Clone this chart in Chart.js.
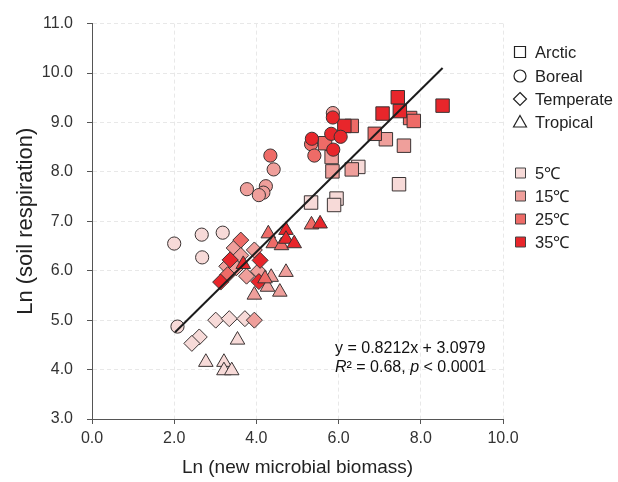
<!DOCTYPE html>
<html><head><meta charset="utf-8">
<script src="https://cdn.jsdelivr.net/npm/chart.js@4/dist/chart.umd.min.js"></script>
<style>html,body{margin:0;padding:0;background:#fff}#wrap{width:618px;height:482px;position:relative}</style>
</head><body><div id="wrap"><canvas id="c"></canvas></div>
<script>
// ---- data ----
const regions = ['Arctic', 'Boreal', 'Temperate', 'Tropical'];
const temps = ['5℃', '15℃', '25℃', '35℃'];
const xTicks = [0, 2, 4, 6, 8, 10];
const yTicks = [3, 4, 5, 6, 7, 8, 9, 10, 11];
const fitSlope = [0.8212];
const fitIntercept = [3.0979];
const fitRange = [2.02, 8.53];
const fitLabel = ['y = 0.8212x + 3.0979'];

const arctic5  = [[6.48,8.10],[7.47,7.75],[5.33,7.38],[5.95,7.46],[5.89,7.33]];
const arctic15 = [[7.15,8.66],[7.59,8.53],[5.83,8.30],[5.85,8.01],[6.32,8.05]];
const arctic25 = [[7.74,9.09],[7.83,9.03],[6.32,8.93],[6.88,8.77],[5.67,8.58]];
const arctic35 = [[7.44,9.51],[8.53,9.34],[7.07,9.18],[7.49,9.23],[6.14,8.93]];

const boreal5  = [[2.00,6.55],[2.67,6.73],[3.18,6.77],[2.68,6.27],[2.08,4.87]];
const boreal15 = [[5.86,9.19],[4.42,8.05],[4.23,7.71],[3.77,7.65],[4.17,7.58],[4.06,7.53]];
const boreal25 = [[5.33,8.56],[5.41,8.33],[4.34,8.33]];
const boreal35 = [[5.86,9.10],[5.82,8.77],[6.05,8.71],[5.35,8.67],[5.87,8.45]];

const temperate5  = [[3.01,5.00],[3.34,5.03],[3.72,5.03],[2.61,4.66],[2.43,4.53]];
const temperate15 = [[3.95,5.00],[3.46,6.46],[3.62,6.31],[3.95,6.42],[3.28,6.09],[3.51,6.06],[3.76,5.89],[4.05,5.99]];
const temperate25 = [[3.62,6.62],[3.30,5.92]];
const temperate35 = [[3.36,6.22],[4.09,6.21],[3.13,5.77],[4.06,5.78]];

const tropical5  = [[3.54,4.60],[2.77,4.15],[3.21,4.15],[3.21,3.98],[3.40,3.98]];
const tropical15 = [[4.36,5.87],[4.72,5.97],[4.27,5.67],[3.95,5.51],[4.57,5.57]];
const tropical25 = [[4.29,6.75],[4.41,6.55],[4.61,6.51],[5.34,6.93],[4.21,5.84]];
const tropical35 = [[4.72,6.82],[4.72,6.64],[4.92,6.55],[5.55,6.95],[3.68,6.13]];

// ---- styles ----
const tempColors = ['#f7dad8', '#ef9f9b', '#ee6b67', '#e8262b'];
const shapeStyles = [
  {style: 'rect', r: 9.5},
  {style: 'circle', r: 6.6},
  {style: 'rectRot', r: 8},
  {style: 'triangle', r: 8.4}
];
const groups = [
  [arctic5, arctic15, arctic25, arctic35],
  [boreal5, boreal15, boreal25, boreal35],
  [temperate5, temperate15, temperate25, temperate35],
  [tropical5, tropical15, tropical25, tropical35]
];

const FONT = '"Liberation Sans", Arial, Helvetica, sans-serif';
const datasets = [];
let n = 16;
groups.forEach((g, si) => {
  g.forEach((pts, ti) => {
    datasets.push({
      type: 'scatter',
      label: regions[si] + ' ' + temps[ti],
      data: pts.map(p => ({x: p[0], y: p[1]})),
      pointStyle: shapeStyles[si].style,
      pointRadius: shapeStyles[si].r,
      pointHoverRadius: shapeStyles[si].r,
      backgroundColor: tempColors[ti],
      borderColor: '#3a3333',
      borderWidth: 1,
      order: n--
    });
  });
});
datasets.push({
  type: 'line',
  label: 'fit',
  data: fitRange.map(x => ({x: x, y: fitSlope[0] * x + fitIntercept[0]})),
  borderColor: '#1c1c1c',
  borderWidth: 2,
  pointRadius: 0,
  fill: false,
  order: 0
});

const legendPlugin = {
  id: 'customLegend',
  afterDraw(chart) {
    const ctx = chart.ctx;
    ctx.save();
    ctx.font = '16.5px ' + FONT;
    ctx.fillStyle = '#222';
    ctx.textBaseline = 'middle';
    ctx.textAlign = 'left';
    const rowsY = [52, 76, 99, 122];
    const sx = 520;
    rowsY.forEach((y, i) => {
      ctx.strokeStyle = '#222';
      ctx.lineWidth = 1.2;
      ctx.fillStyle = '#fff';
      ctx.beginPath();
      if (i === 0) {
        ctx.rect(sx - 5.5, y - 5.5, 11, 11);
      } else if (i === 1) {
        ctx.arc(sx, y, 6, 0, Math.PI * 2);
      } else if (i === 2) {
        ctx.moveTo(sx, y - 6.5); ctx.lineTo(sx + 6.5, y); ctx.lineTo(sx, y + 6.5); ctx.lineTo(sx - 6.5, y); ctx.closePath();
      } else {
        ctx.moveTo(sx, y - 6.5); ctx.lineTo(sx + 6.5, y + 5); ctx.lineTo(sx - 6.5, y + 5); ctx.closePath();
      }
      ctx.fill();
      ctx.stroke();
      ctx.fillStyle = '#222';
      ctx.fillText(regions[i], 535, y + 1);
    });
    const tY = [173, 196, 219, 242];
    tY.forEach((y, i) => {
      ctx.fillStyle = tempColors[i];
      ctx.strokeStyle = '#444';
      ctx.lineWidth = 1;
      ctx.beginPath();
      ctx.rect(sx - 4.5, y - 5, 10, 10);
      ctx.fill();
      ctx.stroke();
      ctx.fillStyle = '#222';
      ctx.fillText(temps[i], 535, y + 1);
    });

    // annotation
    const ax = 335;
    ctx.font = '16px ' + FONT;
    ctx.fillStyle = '#111';
    ctx.fillText(fitLabel[0], ax, 349);
    let x = ax;
    const y2 = 368;
    ctx.font = 'italic 16px ' + FONT;
    ctx.fillText('R', x, y2); x += ctx.measureText('R').width;
    ctx.font = '16px ' + FONT;
    ctx.fillText('² = 0.68, ', x, y2); x += ctx.measureText('² = 0.68, ').width;
    ctx.font = 'italic 16px ' + FONT;
    ctx.fillText('p', x, y2); x += ctx.measureText('p').width;
    ctx.font = '16px ' + FONT;
    ctx.fillText(' < 0.0001', x, y2);
    ctx.restore();
  }
};

const gridCommon = {
  color: '#e8e8e8',
  lineWidth: 1,
  tickColor: '#555',
  tickLength: 5
};

new Chart(document.getElementById('c'), {
  data: {datasets: datasets},
  options: {
    responsive: true,
    maintainAspectRatio: false,
    animation: false,
    events: [],
    layout: {padding: {left: 0, right: 115, top: 19, bottom: 0}},
    plugins: {legend: {display: false}, tooltip: {enabled: false}},
    scales: {
      x: {
        type: 'linear', min: xTicks[0], max: xTicks[xTicks.length - 1],
        afterBuildTicks: s => { s.ticks = xTicks.map(v => ({value: v})); },
        afterFit: s => { s.height = 63; },
        ticks: {callback: v => Number(v).toFixed(1), font: {family: FONT, size: 16}, color: '#333', padding: 5, maxRotation: 0},
        grid: gridCommon,
        border: {color: '#555', width: 1, dash: [4, 3]},
        title: {display: true, text: 'Ln (new microbial biomass)', font: {family: FONT, size: 19}, color: '#222', padding: {top: 0, bottom: 3}}
      },
      y: {
        type: 'linear', min: yTicks[0], max: yTicks[yTicks.length - 1],
        afterBuildTicks: s => { s.ticks = yTicks.map(v => ({value: v})); },
        afterFit: s => { s.width = 92; },
        ticks: {callback: v => Number(v).toFixed(1), font: {family: FONT, size: 16}, color: '#333', padding: 14},
        grid: gridCommon,
        border: {color: '#555', width: 1, dash: [4, 3]},
        title: {display: true, text: 'Ln (soil respiration)', font: {family: FONT, size: 22}, color: '#222', padding: {top: 13, bottom: 0}}
      }
    }
  },
  plugins: [legendPlugin]
});
</script>
</body></html>
